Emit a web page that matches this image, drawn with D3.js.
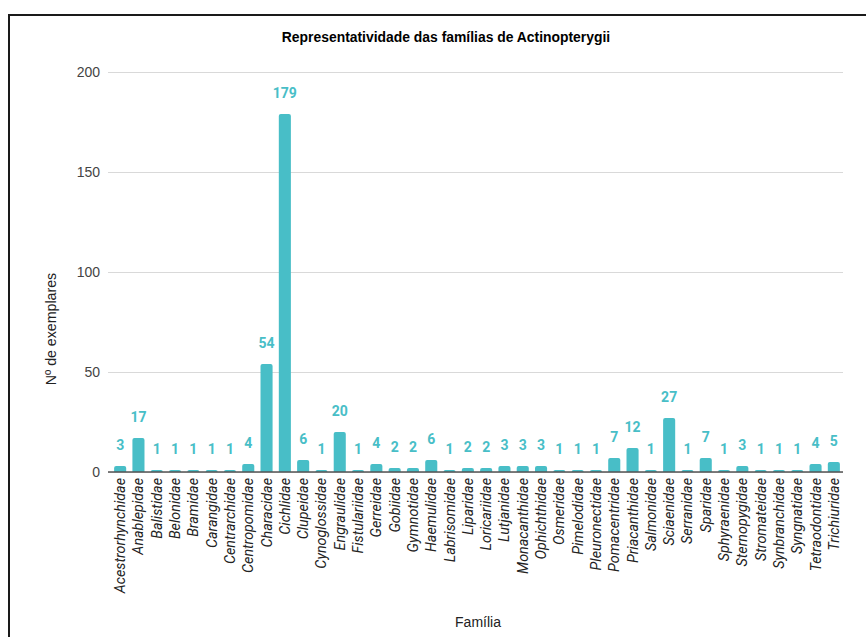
<!DOCTYPE html>
<html>
<head>
<meta charset="utf-8">
<script src="https://cdn.jsdelivr.net/npm/d3@7"></script>
<style>
  html, body { margin: 0; padding: 0; background: #fff; }
  svg { display: block; }
</style>
</head>
<body>
<script>
// Families of Actinopterygii and number of specimens in each
const families = [
  "Acestrorhynchidae", "Anablepidae", "Balistidae", "Belonidae", "Bramidae",
  "Carangidae", "Centrarchidae", "Centropomidae", "Characidae", "Cichlidae",
  "Clupeidae", "Cynoglossidae", "Engraulidae", "Fistulariidae", "Gerreidae",
  "Gobiidae", "Gymnotidae", "Haemulidae", "Labrisomidae", "Liparidae",
  "Loricariidae", "Lutjanidae", "Monacanthidae", "Ophichthidae", "Osmeridae",
  "Pimelodidae", "Pleuronectidae", "Pomacentridae", "Priacanthidae", "Salmonidae",
  "Sciaenidae", "Serranidae", "Sparidae", "Sphyraenidae", "Sternopygidae",
  "Stromateidae", "Synbranchidae", "Syngnatidae", "Tetraodontidae", "Trichiuridae"
];
const specimens = [
  3, 17, 1, 1, 1,
  1, 1, 4, 54, 179,
  6, 1, 20, 1, 4,
  2, 2, 6, 1, 2,
  2, 3, 3, 3, 1,
  1, 1, 7, 12, 1,
  27, 1, 7, 1, 3,
  1, 1, 1, 4, 5
];
const yTicks = [0, 50, 100, 150, 200];

const chartTitle = "Representatividade das famílias de Actinopterygii";
const yTitle = "Nº de exemplares";
const xTitle = "Família";

const W = 866, H = 637;
const margin = { left: 111, right: 23, top: 72, bottom: 165 };
const barColor = "#48bec7";

const svg = d3.select("body").append("svg")
  .attr("width", W).attr("height", H);

// frame
svg.append("rect")
  .attr("x", 9).attr("y", 15)
  .attr("width", W + 20).attr("height", H + 20)
  .attr("fill", "#fff")
  .attr("stroke", "#1a1a1a").attr("stroke-width", 2);

const data = families.map((f, i) => ({ family: f, value: specimens[i] }));

const x = d3.scaleBand()
  .domain(families)
  .range([margin.left, W - margin.right])
  .paddingInner(0.34).paddingOuter(0.17);

const y = d3.scaleLinear()
  .domain([0, 200])
  .range([H - margin.bottom, margin.top]);

// title
svg.append("text")
  .attr("x", 446).attr("y", 42)
  .attr("text-anchor", "middle")
  .attr("font-family", "Liberation Sans, Arial, sans-serif")
  .attr("font-weight", "bold")
  .attr("font-size", 13.9)
  .attr("fill", "#000")
  .text(chartTitle);

// y grid + tick labels
const yAxis = d3.axisLeft(y).tickValues(yTicks)
  .tickSize(-(W - margin.right - margin.left + 3))
  .tickPadding(8);
const gy = svg.append("g")
  .attr("transform", `translate(${margin.left - 3},0)`)
  .call(yAxis);
gy.select(".domain").remove();
gy.selectAll(".tick line").attr("stroke", "#d9d9d9").attr("stroke-width", 1);
gy.selectAll(".tick text")
  .attr("font-family", "Liberation Sans, Arial, sans-serif")
  .attr("font-size", 14)
  .attr("fill", "#444");

// bars with rounded tops
const r = 2;
function barPath(d) {
  const x0 = x(d.family), w = x.bandwidth();
  const yb = y(0), yt = y(d.value);
  const h = yb - yt;
  const rr = Math.min(r, h, w / 2);
  return `M${x0},${yb}V${yt + rr}Q${x0},${yt} ${x0 + rr},${yt}` +
         `H${x0 + w - rr}Q${x0 + w},${yt} ${x0 + w},${yt + rr}V${yb}Z`;
}
svg.append("g").selectAll("path")
  .data(data).join("path")
  .attr("d", barPath)
  .attr("fill", barColor);

// baseline
svg.append("line")
  .attr("x1", margin.left - 3).attr("x2", W - margin.right)
  .attr("y1", y(0)).attr("y2", y(0))
  .attr("stroke", "#555").attr("stroke-width", 1.3);

// value labels
svg.append("g").selectAll("text")
  .data(data).join("text")
  .attr("x", d => x(d.family) + x.bandwidth() / 2)
  .attr("y", d => y(d.value) - 16)
  .attr("text-anchor", "middle")
  .attr("font-family", "Roboto, sans-serif")
  .attr("font-weight", "bold")
  .attr("font-size", 14)
  .attr("fill", barColor)
  .text(d => d.value);

// category labels (rotated)
svg.append("g").selectAll("text")
  .data(data).join("text")
  .attr("transform", d => `translate(${x(d.family) + x.bandwidth() / 2 + 5},${y(0) + 6}) rotate(-90)`)
  .attr("text-anchor", "end")
  .attr("font-family", "Roboto, sans-serif")
  .attr("font-style", "italic")
  .attr("font-size", 14.3)
  .attr("fill", "#222")
  .text(d => d.family);

// axis titles
svg.append("text")
  .attr("transform", "translate(56,329) rotate(-90)")
  .attr("text-anchor", "middle")
  .attr("font-family", "Liberation Sans, Arial, sans-serif")
  .attr("font-size", 14.2)
  .attr("fill", "#222")
  .text(yTitle);

svg.append("text")
  .attr("x", 478).attr("y", 627)
  .attr("text-anchor", "middle")
  .attr("font-family", "Liberation Sans, Arial, sans-serif")
  .attr("font-size", 14)
  .attr("fill", "#222")
  .text(xTitle);
</script>
</body>
</html>
